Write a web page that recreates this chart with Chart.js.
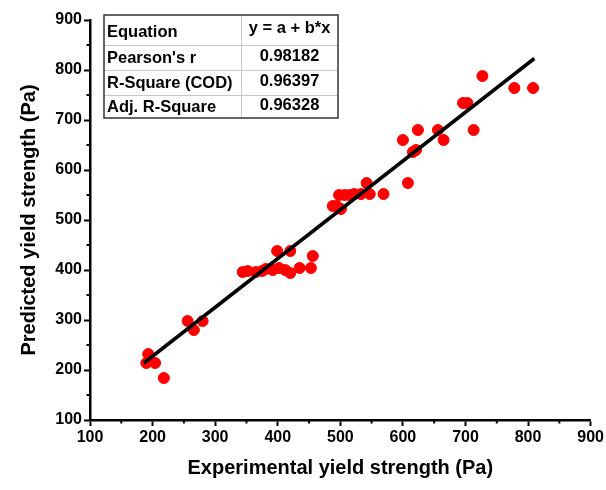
<!DOCTYPE html>
<html>
<head>
<meta charset="utf-8">
<script src="https://cdn.jsdelivr.net/npm/chart.js@4/dist/chart.umd.min.js"></script>
<style>
  body { margin: 0; background: #fff; }
  #wrap { width: 606px; height: 490px; }
</style>
</head>
<body>
<div id="wrap"><canvas id="grafico" width="606" height="490"></canvas></div>
<script>
// datos
const experimental = [190, 193, 204, 218, 256, 266, 280, 344, 352, 365, 375, 381, 392, 399, 402, 412, 420, 420, 435, 453, 456,
    488, 494, 498, 501, 507, 515, 522, 533, 542, 547, 569, 600, 608, 616, 621, 624, 656, 665, 696, 703, 713, 727, 778, 808]
const predicho = [214, 232, 214, 184, 298, 280, 298, 396, 398, 396, 398, 402, 400, 438, 404, 400, 438, 394, 404, 404, 428,
    528, 528, 550, 522, 550, 550, 552, 552, 574, 552, 552, 660, 574, 636, 640, 680, 680, 660, 734, 734, 680, 788, 764, 764]
const ajusteX = [186, 810]
const ajusteY = [214, 823]
const ticksX = [100, 200, 300, 400, 500, 600, 700, 800, 900]
const ticksY = [100, 200, 300, 400, 500, 600, 700, 800, 900]
const tabla = [
    ['Equation', 'y = a + b*x'],
    ["Pearson's r", '0.98182'],
    ['R-Square (COD)', '0.96397'],
    ['Adj. R-Square', '0.96328']
]

const fuente = '"Liberation Sans", Arial, sans-serif'

const puntos = experimental.map((x, i) => ({ x: x, y: predicho[i] }))
const linea = ajusteX.map((x, i) => ({ x: x, y: ajusteY[i] }))

// ticks menores y tabla de estadisticos
const extras = {
    id: 'extras',
    afterDraw(chart) {
        const ctx = chart.ctx
        const sx = chart.scales.x
        const sy = chart.scales.y
        ctx.save()
        ctx.strokeStyle = '#000'
        ctx.lineWidth = 2
        for (let v = 150; v < 900; v += 100) {
            let px = sx.getPixelForValue(v)
            ctx.beginPath(); ctx.moveTo(px, sx.top); ctx.lineTo(px, sx.top + 3.5); ctx.stroke()
            let py = sy.getPixelForValue(v)
            ctx.beginPath(); ctx.moveTo(sy.right, py); ctx.lineTo(sy.right - 3.5, py); ctx.stroke()
        }

        // tabla
        const x0 = 104, x1 = 241, x2 = 338
        const filas = [15, 45, 70, 95, 118]
        ctx.lineWidth = 1
        ctx.strokeStyle = '#c8c8c8'
        for (let r = 1; r < tabla.length; r++) {
            ctx.beginPath(); ctx.moveTo(x0, filas[r] + 0.5); ctx.lineTo(x2, filas[r] + 0.5); ctx.stroke()
        }
        ctx.beginPath(); ctx.moveTo(x1 + 0.5, filas[0]); ctx.lineTo(x1 + 0.5, filas[4]); ctx.stroke()
        ctx.strokeStyle = '#333'
        ctx.lineWidth = 1.5
        ctx.strokeRect(x0, filas[0], x2 - x0, filas[4] - filas[0])
        ctx.fillStyle = '#000'
        ctx.font = 'bold 16.5px ' + fuente
        ctx.textBaseline = 'middle'
        tabla.forEach((fila, r) => {
            let cy = (filas[r] + filas[r + 1]) / 2
            ctx.textAlign = 'left'
            ctx.fillText(fila[0], x0 + 3, cy + (r == 0 ? 2 : 1))
            ctx.textAlign = 'center'
            ctx.fillText(fila[1], (x1 + x2) / 2, cy - (r == 0 ? 2 : 1))
        })
        ctx.restore()
    }
}

const ejeComun = (titulo, ticks) => ({
    type: 'linear',
    min: 100,
    max: 900,
    afterBuildTicks: (scale) => { scale.ticks = ticks.map(v => ({ value: v })) },
    border: { display: true, color: '#000', width: 2.5 },
    grid: { display: true, drawOnChartArea: false, drawTicks: true, tickLength: 6, tickWidth: 2, tickColor: '#000' },
    ticks: { color: '#000', font: { family: fuente, size: 16, weight: 'bold' }, padding: 2 },
    title: { display: true, text: titulo, color: '#000', font: { family: fuente, size: 20, weight: 'bold' } }
})

const ejeX = ejeComun('Experimental yield strength (Pa)', ticksX)
ejeX.afterFit = (scale) => { scale.height = 60 }
ejeX.title.padding = { top: 8, bottom: 0 }
const ejeY = ejeComun('Predicted yield strength (Pa)', ticksY)
ejeY.afterFit = (scale) => { scale.width = 73 }
ejeY.title.padding = { top: 0, bottom: 6 }

new Chart(document.getElementById('grafico'), {
    type: 'scatter',
    data: {
        datasets: [{
            label: 'Datos',
            data: puntos,
            backgroundColor: '#ff0000',
            borderColor: '#ff0000',
            pointRadius: 5.5,
            pointHoverRadius: 5.5,
            order: 2
        }, {
            type: 'line',
            label: 'Ajuste',
            data: linea,
            borderColor: '#000',
            borderWidth: 3.5,
            pointRadius: 0,
            fill: false,
            order: 1
        }]
    },
    options: {
        responsive: false,
        animation: false,
        layout: { padding: { left: 17, right: 15, top: 20, bottom: 10 } },
        plugins: { legend: { display: false }, tooltip: { enabled: false } },
        scales: { x: ejeX, y: ejeY }
    },
    plugins: [extras]
})
</script>
</body>
</html>
